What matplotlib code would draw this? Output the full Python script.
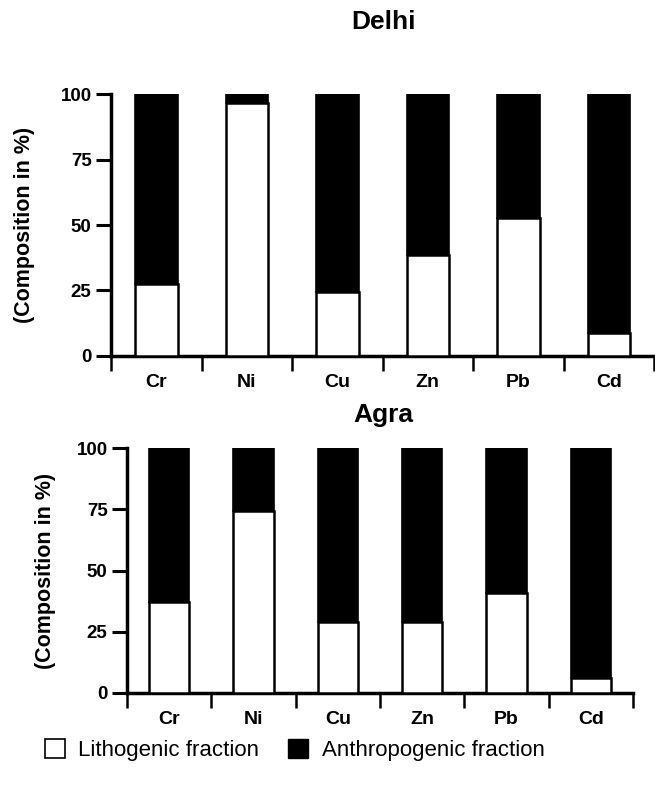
import matplotlib
matplotlib.use("Agg")
import matplotlib.pyplot as plt
from matplotlib.patches import Patch
import numpy as np

plt.rcParams['font.family'] = ['Liberation Sans', 'DejaVu Sans']

metals = ["Cr", "Ni", "Cu", "Zn", "Pb", "Cd"]
delhi_litho = [27.5, 96.5, 24.5, 38.5, 52.5, 8.6]
agra_litho = [37.2, 74.3, 29.0, 29.0, 41.0, 5.9]
y_ticks = [0, 25, 50, 75, 100]

fig = plt.figure(figsize=(6.55, 8.01), dpi=100)

def draw(ax, litho, width):
    x = np.arange(len(metals))
    litho = np.array(litho)
    anthro = 100 - litho
    ax.bar(x, anthro, bottom=litho, width=width, color="black", edgecolor="black", linewidth=1.2, zorder=2)
    ax.bar(x, litho, width=width, color="white", edgecolor="black", linewidth=1.8, zorder=3)
    ax.set_xlim(-0.5, len(metals) - 0.5)
    ax.set_ylim(0, 100)
    ax.set_yticks(y_ticks)
    ax.set_yticklabels([str(t) for t in y_ticks], fontsize=13.5, fontweight="bold")
    ax.set_xticks(x)
    ax.set_xticklabels(metals, fontsize=14, fontweight="bold")
    ax.set_xticks(np.arange(-0.5, len(metals)), minor=True)
    ax.tick_params(axis="x", which="major", length=0, pad=13)
    ax.tick_params(axis="x", which="minor", length=11, width=1.8, direction="out")
    ax.tick_params(axis="y", length=11, width=2.2, direction="out", pad=3)
    for s in ["top", "right"]:
        ax.spines[s].set_visible(False)
    for s in ["left", "bottom"]:
        ax.spines[s].set_linewidth(2.5)
    ax.set_ylabel("(Composition in %)", fontsize=15.5, fontweight="bold")
    ax.yaxis.set_label_coords(-0.14, 0.5)

ax1 = fig.add_axes([0.1695, 0.5556, 0.829, 0.327])
draw(ax1, delhi_litho, 0.47)
ax2 = fig.add_axes([0.1939, 0.1352, 0.7725, 0.3051])
draw(ax2, agra_litho, 0.48)

fig.text(0.586, 0.9725, "Delhi", ha="center", va="center", fontsize=19, fontweight="bold")
fig.text(0.585, 0.482, "Agra", ha="center", va="center", fontsize=19, fontweight="bold")

handles = [Patch(facecolor="white", edgecolor="black", linewidth=1.2),
           Patch(facecolor="black", edgecolor="black")]
fig.legend(handles, ["Lithogenic fraction", "Anthropogenic fraction"], loc="center",
           bbox_to_anchor=(0.45, 0.0635), ncol=2, frameon=False, fontsize=16,
           handlelength=0.9, handleheight=0.9, handletextpad=0.6, columnspacing=1.3)

fig.savefig("out.png", dpi=100)
